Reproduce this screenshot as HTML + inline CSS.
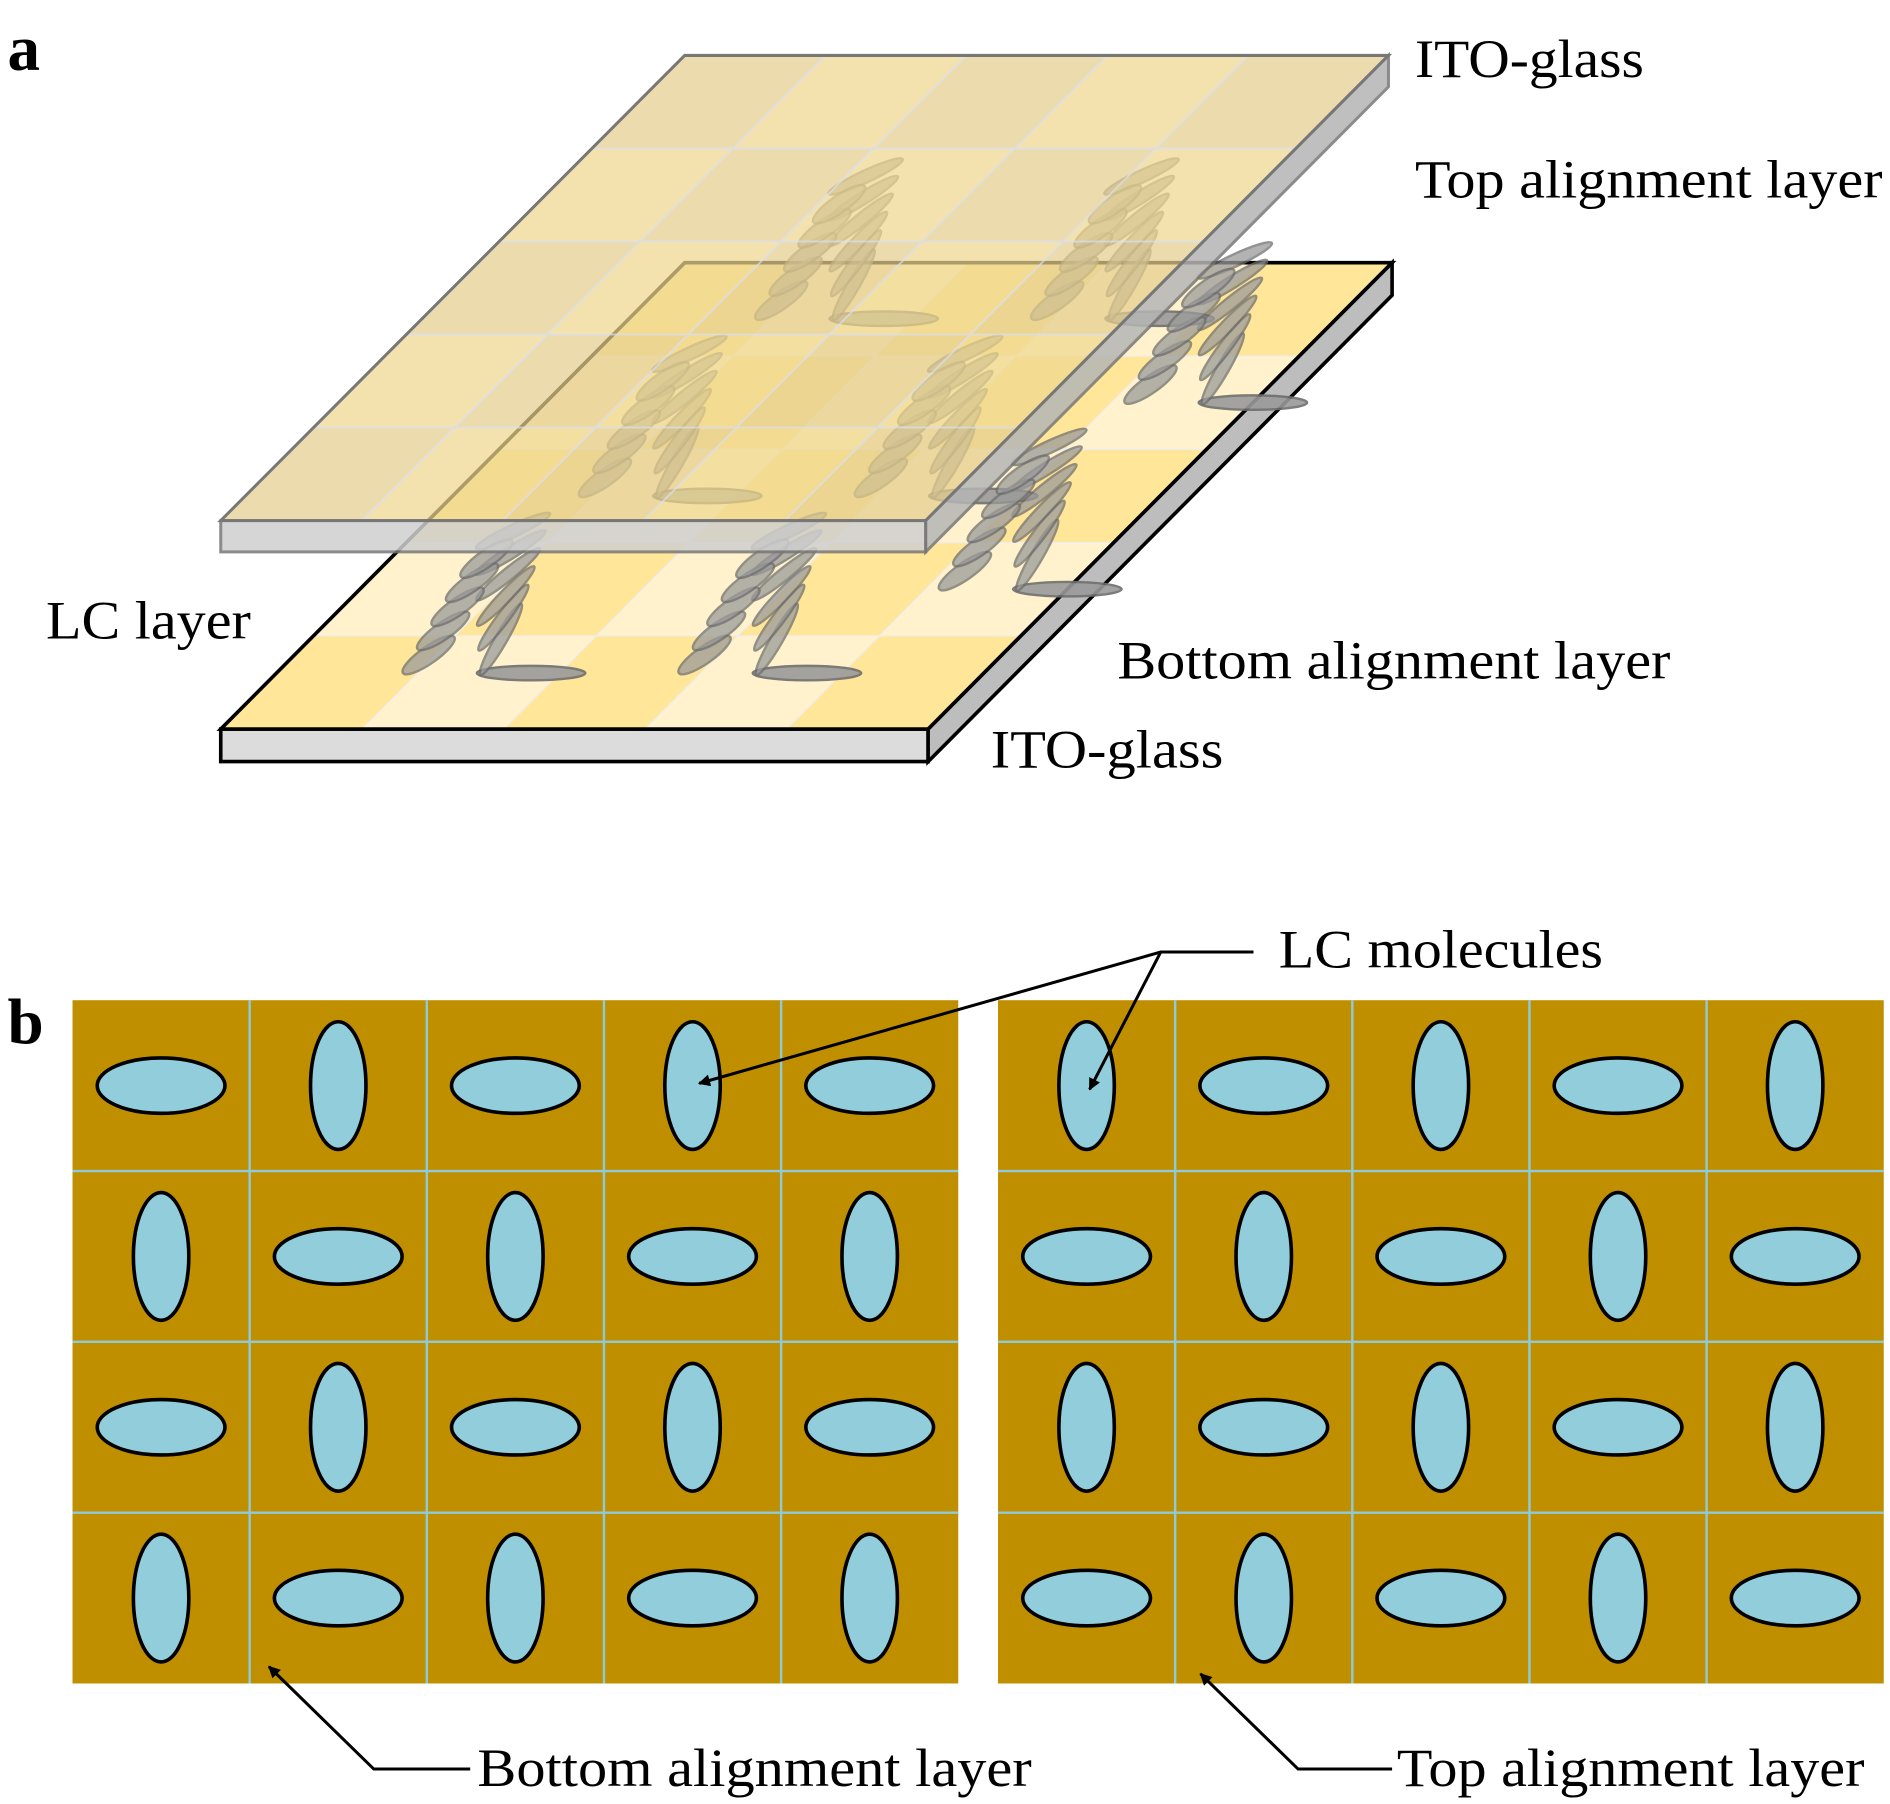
<!DOCTYPE html>
<html><head><meta charset="utf-8"><style>
html,body{margin:0;padding:0;background:#fff;}
svg{display:block;}
text{font-family:"Liberation Serif",serif;fill:#000;}
</style></head><body>
<svg id="s" width="1890" height="1804" viewBox="0 0 1568 1497" xmlns="http://www.w3.org/2000/svg">
<defs>
<marker id="ar" markerWidth="10" markerHeight="10" refX="9" refY="5" orient="auto" markerUnits="userSpaceOnUse"><path d="M0,0 L10,5 L0,10 Z" fill="#000"/></marker>
</defs>
<g id="a"></g>
<g id="b"></g>
<text x="6" y="58" font-size="54" font-weight="bold">a</text>
<text x="6" y="866" font-size="54" font-weight="bold">b</text>
<text x="1174" y="64" font-size="45" textLength="190" lengthAdjust="spacingAndGlyphs">ITO-glass</text>
<text x="1174" y="164" font-size="45" textLength="388" lengthAdjust="spacingAndGlyphs">Top alignment layer</text>
<text x="38" y="530" font-size="45" textLength="170" lengthAdjust="spacingAndGlyphs">LC layer</text>
<text x="927" y="563" font-size="45" textLength="459" lengthAdjust="spacingAndGlyphs">Bottom alignment layer</text>
<text x="822" y="637" font-size="45" textLength="193" lengthAdjust="spacingAndGlyphs">ITO-glass</text>
<text x="1061" y="803" font-size="45" textLength="269" lengthAdjust="spacingAndGlyphs">LC molecules</text>
<text x="396" y="1482" font-size="45" textLength="460" lengthAdjust="spacingAndGlyphs">Bottom alignment layer</text>
<text x="1159" y="1482" font-size="45" textLength="388" lengthAdjust="spacingAndGlyphs">Top alignment layer</text>
<g stroke="#000" stroke-width="2.5" fill="none">
<polyline points="1040,790 963,790 580,899" marker-end="url(#ar)"/>
<line x1="963" y1="790" x2="904" y2="904" marker-end="url(#ar)"/>
<polyline points="390,1468 310,1468 223,1383" marker-end="url(#ar)"/>
<polyline points="1155,1468 1077,1468 996,1389" marker-end="url(#ar)"/>
</g>
</svg>
<script>
var NS="http://www.w3.org/2000/svg";
function el(p,t,a){var e=document.createElementNS(NS,t);for(var k in a)e.setAttribute(k,a[k]);p.appendChild(e);return e;}
var A=document.getElementById('a'),B=document.getElementById('b');
function P(fl,fr,bl,u,v){return [fl[0]+u*(fr[0]-fl[0])+v*(bl[0]-fl[0]), fl[1]+u*(fr[1]-fl[1])+v*(bl[1]-fl[1])];}
function poly(g,pts,a){a.points=pts.map(function(p){return p[0].toFixed(1)+','+p[1].toFixed(1)}).join(' ');return el(g,'polygon',a);}
var bFL=[183,605],bFR=[770,605],bBL=[568,218],bBR=[1155,218];
poly(A,[[183,605],[770,605],[770,632],[183,632]],{fill:'#dcdcdc',stroke:'#000','stroke-width':3});
poly(A,[[770,605],[1155,218],[1155,245],[770,632]],{fill:'#bdbdbd',stroke:'#000','stroke-width':3});
for(var i=0;i<5;i++)for(var j=0;j<5;j++){
 var c=((i+j)%2==0)?'#FFE699':'#FFF2CC';
 poly(A,[P(bFL,bFR,bBL,i/5,j/5),P(bFL,bFR,bBL,(i+1)/5,j/5),P(bFL,bFR,bBL,(i+1)/5,(j+1)/5),P(bFL,bFR,bBL,i/5,(j+1)/5)],{fill:c,stroke:'#eee','stroke-width':1});
}
poly(A,[bFL,bFR,bBR,bBL],{fill:'none',stroke:'#000','stroke-width':3});
function mol(x,y,rx,ry,rot,op){el(A,'ellipse',{cx:x,cy:y,rx:rx,ry:ry,transform:'rotate('+rot+' '+x+' '+y+')',fill:'#9a9a9a',stroke:'#6e6e6e','stroke-width':2,opacity:op});}
var sites=[];
var us=[0.36,0.75],vs=[0.12,0.5,0.88];
us.forEach(function(u){vs.forEach(function(v){sites.push(P(bFL,bFR,bBL,u,v));});});
sites.push(P(bFL,bFR,bBL,1.0,0.3));sites.push(P(bFL,bFR,bBL,1.0,0.7));
sites.forEach(function(p){
 var x=p[0],y=p[1];
 mol(x,y,45,6,0,0.9);
 for(var k=0;k<6;k++){mol(x-25+k*2,y-28-k*18,34,5,-60+k*7,0.75);}
 for(var k=0;k<5;k++){mol(x-85+k*12,y-15-k*20,26,7,-35,0.75);}
});
var tFL=[183,432],tFR=[768,432],tBL=[568,46],tBR=[1152,46];
for(var i=0;i<5;i++)for(var j=0;j<5;j++){
 var c=((i+j)%2==0)?'#E6CF8E':'#EFD88F';
 poly(A,[P(tFL,tFR,tBL,i/5,j/5),P(tFL,tFR,tBL,(i+1)/5,j/5),P(tFL,tFR,tBL,(i+1)/5,(j+1)/5),P(tFL,tFR,tBL,i/5,(j+1)/5)],{fill:c,opacity:0.72,stroke:'#ddd','stroke-width':1.5});
}
poly(A,[tFL,tFR,tBR,tBL],{fill:'none',stroke:'#777','stroke-width':2.5});
poly(A,[[183,432],[768,432],[768,458],[183,458]],{fill:'#cfcfcf',opacity:0.85,stroke:'#777','stroke-width':2.5});
poly(A,[[768,432],[1152,46],[1152,72],[768,458]],{fill:'#b5b5b5',opacity:0.85,stroke:'#777','stroke-width':2.5});
function grid(x0,flip){
 var w=147,h=141.75,y0=830;
 el(B,'rect',{x:x0,y:y0,width:w*5,height:h*4,fill:'#BF8F00'});
 for(var i=1;i<5;i++)el(B,'line',{x1:x0+i*w,y1:y0,x2:x0+i*w,y2:y0+4*h,stroke:'#8FCADB','stroke-width':2});
 for(var j=1;j<4;j++)el(B,'line',{x1:x0,y1:y0+j*h,x2:x0+5*w,y2:y0+j*h,stroke:'#8FCADB','stroke-width':2});
 for(var i=0;i<5;i++)for(var j=0;j<4;j++){
  var hz=((i+j+flip)%2==0);
  el(B,'ellipse',{cx:x0+(i+0.5)*w,cy:y0+(j+0.5)*h,rx:hz?53:23,ry:hz?23:53,fill:'#92CDDC',stroke:'#000','stroke-width':3});
 }
}
grid(60,0);grid(828,1);
</script>
</body></html>
